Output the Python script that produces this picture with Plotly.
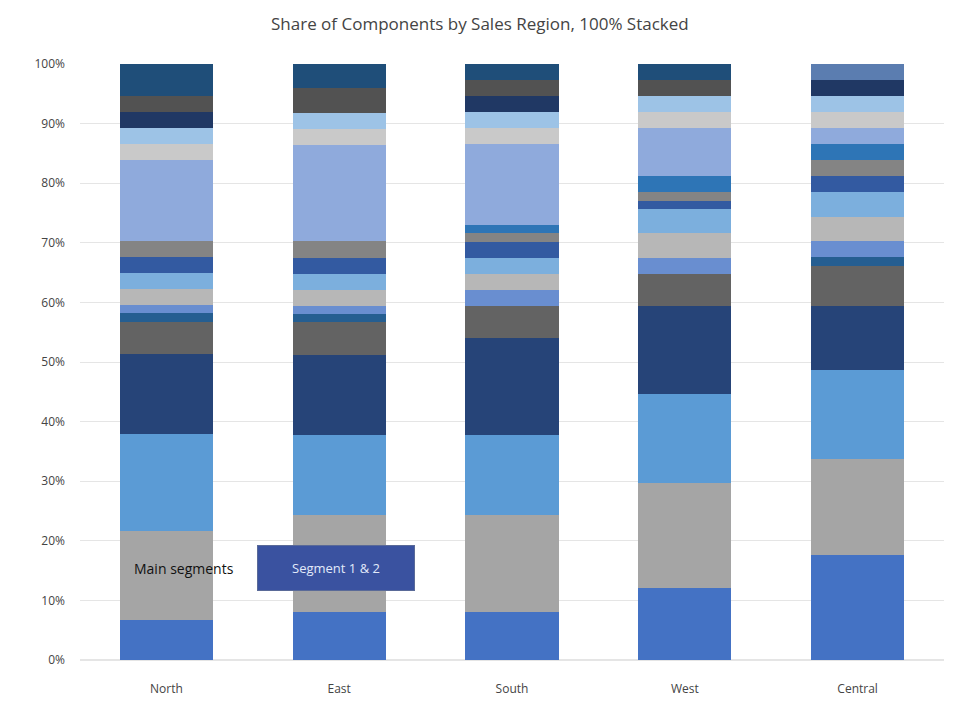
import plotly.graph_objects as go

categories = ["North", "East", "South", "West", "Central"]

series_names = [f"Segment {i}" for i in range(1, 20)]

series_colors = [
    "#4472C4", "#A5A5A5", "#5B9BD5", "#264478", "#636363", "#255E91",
    "#698ED0", "#B7B7B7", "#7CAFDD", "#335AA1", "#848484", "#2E75B6",
    "#8FAADC", "#C9C9C9", "#9DC3E6", "#203864", "#525252", "#1F4E79",
    "#5B7DB0",
]

north = [6.8, 14.9, 16.2, 13.5, 5.4, 1.4, 1.4, 2.7, 2.7, 2.7, 2.7, 0, 13.5, 2.7, 2.7, 2.7, 2.7, 5.4, 0]
east = [8.1, 16.2, 13.5, 13.5, 5.4, 1.4, 1.4, 2.7, 2.7, 2.7, 2.7, 0, 16.2, 2.7, 2.7, 0, 4.1, 4.1, 0]
south = [8.1, 16.2, 13.5, 16.2, 5.4, 0, 2.7, 2.7, 2.7, 2.7, 1.4, 1.4, 13.5, 2.7, 2.7, 2.7, 2.7, 2.7, 0]
west = [12.2, 17.6, 14.9, 14.9, 5.4, 0, 2.7, 4.1, 4.1, 1.4, 1.4, 2.7, 8.1, 2.7, 2.7, 0, 2.7, 2.7, 0]
central = [17.6, 16.2, 14.9, 10.8, 6.8, 1.4, 2.7, 4.1, 4.1, 2.7, 2.7, 2.7, 2.7, 2.7, 2.7, 2.7, 0, 0, 2.7]

by_category = [north, east, south, west, central]

fig = go.Figure()
for i, name in enumerate(series_names):
    fig.add_trace(go.Bar(
        x=categories,
        y=[vals[i] for vals in by_category],
        name=name,
        marker=dict(color=series_colors[i], line=dict(width=0)),
    ))

fig.update_layout(
    barmode="stack",
    barnorm="percent",
    bargap=0.46,
    showlegend=False,
    width=963,
    height=711,
    paper_bgcolor="white",
    plot_bgcolor="white",
    margin=dict(l=72, r=27, t=56, b=59, autoexpand=False),
    font=dict(family="Open Sans, sans-serif", size=12, color="#444"),
    title=dict(
        text="Share of Components by Sales Region, 100% Stacked",
        x=0.49, xanchor="center",
        y=1 - 16 / 711, yanchor="middle",
        font=dict(size=17, color="#444"),
    ),
    xaxis=dict(showgrid=False, showline=False, ticks="", automargin=False,
               ticklabelstandoff=20),
    yaxis=dict(
        range=[0, 100], dtick=10, ticksuffix="%", automargin=False,
        ticklabelstandoff=14,
        showgrid=True, gridcolor="#E5E5E5", zeroline=True, zerolinecolor="#E5E5E5",
        showline=False,
    ),
    annotations=[
        dict(xref="paper", yref="paper", x=(184 - 80) / 864, y=(660 - 568) / 596,
             xanchor="center", yanchor="middle",
             text="Main segments", showarrow=False, font=dict(size=14, color="#111")),
        dict(xref="paper", yref="paper", x=(336 - 80) / 864, y=(660 - 568) / 596,
             xanchor="center", yanchor="middle",
             text="Segment 1 &amp; 2", showarrow=False, width=154, height=42,
             bgcolor="#3A52A0", bordercolor="#5A6A98", borderwidth=1,
             font=dict(size=13, color="#E2EAFA")),
    ],
)

fig.write_html("out.html")
